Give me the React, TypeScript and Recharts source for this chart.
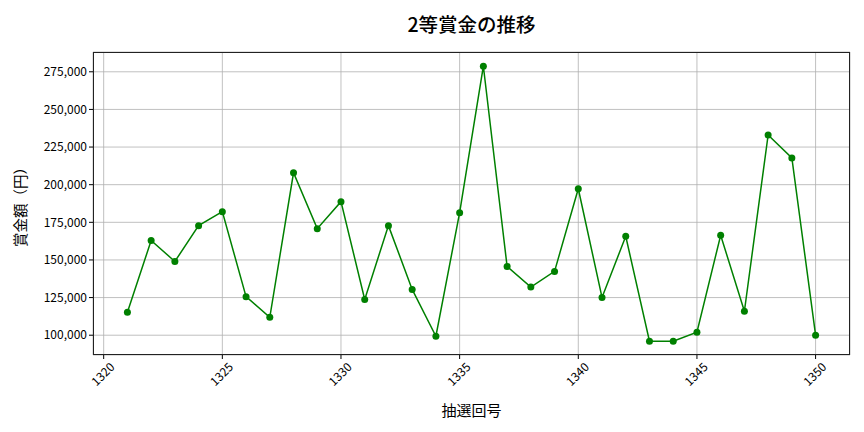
import React from "react";
import {
  LineChart,
  Line,
  XAxis,
  YAxis,
  CartesianGrid,
} from "recharts";

// 抽選回号と2等賞金
const draws = [
  1321, 1322, 1323, 1324, 1325, 1326, 1327, 1328, 1329, 1330,
  1331, 1332, 1333, 1334, 1335, 1336, 1337, 1338, 1339, 1340,
  1341, 1342, 1343, 1344, 1345, 1346, 1347, 1348, 1349, 1350,
];
const prizes = [
  115200, 162900, 149000, 172800, 182100, 125600, 111900, 207900, 170800, 188700,
  123800, 172800, 130400, 99300, 181400, 278700, 145700, 132000, 142400, 197300,
  125100, 165700, 96000, 96000, 102000, 166400, 115900, 233000, 217800, 100000,
];
const xTicks = [1320, 1325, 1330, 1335, 1340, 1345, 1350];
const yTicks = [100000, 125000, 150000, 175000, 200000, 225000, 250000, 275000];

const data = draws.map((d, i) => ({ draw: d, prize: prizes[i] }));

const FONT = "'Noto Sans CJK JP', 'Noto Sans', sans-serif";

function XTick({ x, y, payload }: { x?: number; y?: number; payload?: { value: number } }) {
  const cx = x ?? 0;
  const cy = (y ?? 0) + 14;
  return (
    <text
      x={cx}
      y={cy}
      transform={`rotate(-45 ${cx} ${cy})`}
      textAnchor="middle"
      dominantBaseline="middle"
      fontSize={12}
      fontFamily={FONT}
      fill="#000"
    >
      {payload?.value}
    </text>
  );
}

export default function App() {
  return (
    <div style={{ position: "absolute", left: 0, top: 0, width: 864, height: 432, background: "#fff", fontFamily: FONT }}>
      <div
        style={{
          position: "absolute",
          left: 93,
          width: 757,
          top: 9,
          textAlign: "center",
          fontSize: 19.5,
          fontWeight: 500,
          color: "#000",
        }}
      >
        2等賞金の推移
      </div>
      <LineChart width={864} height={432} data={data} margin={{ top: 52, right: 14, bottom: 0, left: 0 }}>
        <CartesianGrid stroke="#b0b0b0" strokeWidth={0.8} />
        <XAxis
          dataKey="draw"
          type="number"
          domain={[1319.55, 1351.45]}
          ticks={xTicks}
          allowDataOverflow
          height={77}
          tick={<XTick />}
          tickLine={{ stroke: "#000" }}
          tickSize={4}
          axisLine={false}
          label={{ value: "抽選回号", position: "insideBottom", offset: 16, fontSize: 15, fill: "#000", fontFamily: FONT }}
        />
        <YAxis
          type="number"
          domain={[86850, 288150]}
          ticks={yTicks}
          allowDataOverflow
          width={93}
          tickFormatter={(v: number) => v.toLocaleString("en-US")}
          tick={{ fontSize: 12, fill: "#000", fontFamily: FONT }}
          tickLine={{ stroke: "#000" }}
          tickSize={4}
          axisLine={false}
          label={{ value: "賞金額（円）", angle: -90, position: "insideLeft", offset: 21, fontSize: 14.5, fill: "#000", fontFamily: FONT, style: { textAnchor: "middle" } }}
        />
        <Line
          dataKey="prize"
          stroke="#008000"
          strokeWidth={1.5}
          dot={{ r: 3.5, fill: "#008000", stroke: "#008000", strokeWidth: 0 }}
          activeDot={false}
          isAnimationActive={false}
        />
      </LineChart>
      <div
        style={{
          position: "absolute",
          left: 93,
          top: 52,
          width: 757,
          height: 303,
          boxSizing: "border-box",
          border: "1px solid #222",
          pointerEvents: "none",
        }}
      />
    </div>
  );
}
